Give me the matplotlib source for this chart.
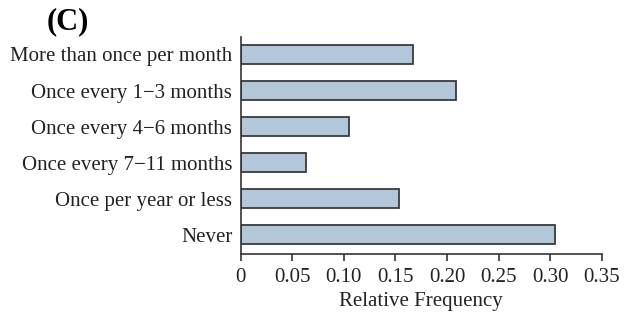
import matplotlib
matplotlib.use("Agg")
import matplotlib.pyplot as plt

categories = ["More than once per month", "Once every 1\u22123 months", "Once every 4\u22126 months",
              "Once every 7\u221211 months", "Once per year or less", "Never"]
values = [0.167, 0.209, 0.105, 0.063, 0.1535, 0.305]
xticks = [0, 0.05, 0.10, 0.15, 0.20, 0.25, 0.30, 0.35]
xticklabels = ["0", "0.05", "0.10", "0.15", "0.20", "0.25", "0.30", "0.35"]

plt.rcParams['font.family'] = ['Liberation Serif', 'DejaVu Serif']

fig = plt.figure(figsize=(6.38, 3.13), dpi=100)
ax = fig.add_axes([240.7/638, (313-254)/313, (601.7-240.7)/638, (254-37)/313])

n = len(categories)
ypos = list(range(n-1, -1, -1))
ax.barh(ypos, values, height=0.53, color="#b3c7db", edgecolor="#3a3a3a", linewidth=1.3)
ax.set_yticks(ypos)
ax.set_yticklabels(categories, fontsize=15, color="#222222")
ax.set_xticks(xticks)
ax.set_xticklabels(xticklabels, fontsize=15, color="#222222")
ax.set_xlim(0, 0.35)
ax.set_ylim(-0.53, n-1+0.485)
ax.spines['top'].set_visible(False)
ax.spines['right'].set_visible(False)
for s in ('left', 'bottom'):
    ax.spines[s].set_linewidth(1.2)
    ax.spines[s].set_color("#333333")
ax.tick_params(axis='y', length=0, pad=6)
ax.tick_params(axis='x', length=5, width=1.2, color="#333333", pad=5)
ax.set_xlabel("Relative Frequency", fontsize=15, color="#222222", labelpad=4)
fig.text(47/638, 1 - 22/313, "(C)", fontsize=22, fontweight='bold', va='center', ha='left')

fig.savefig("out.png", dpi=100)
